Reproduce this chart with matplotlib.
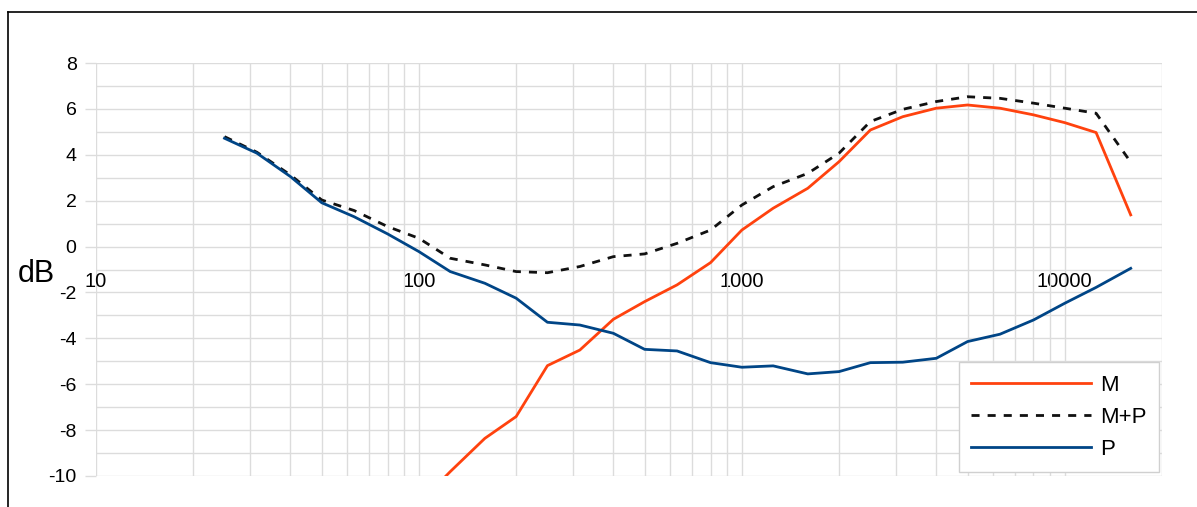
import numpy as np
import matplotlib
matplotlib.use('Agg')
import matplotlib.pyplot as plt
from matplotlib.lines import Line2D
from matplotlib.ticker import FixedLocator, NullFormatter, MultipleLocator

plt.rcParams['font.family'] = ['Liberation Sans', 'DejaVu Sans']
plt.rcParams['axes.unicode_minus'] = False

# 1/3-octave centre frequencies (Hz)
freq = [25, 31.5, 40, 50, 63, 80, 100, 125, 160, 200, 250, 315, 400, 500, 630,
        800, 1000, 1250, 1600, 2000, 2500, 3150, 4000, 5000, 6300, 8000,
        10000, 12500, 16000]

# levels in dB
p_db = [4.72, 4.07, 3.05, 1.91, 1.30, 0.55, -0.22, -1.09, -1.6, -2.25, -3.30,
        -3.42, -3.78, -4.48, -4.55, -5.06, -5.26, -5.2, -5.55, -5.45, -5.06,
        -5.04, -4.87, -4.14, -3.82, -3.2, -2.47, -1.78, -0.95]
m_freq = freq[6:]
m_db = [-11.2, -9.81, -8.36, -7.41, -5.19, -4.51, -3.17, -2.40, -1.67, -0.70,
        0.72, 1.67, 2.54, 3.70, 5.08, 5.66, 6.03, 6.17, 6.03, 5.74, 5.40,
        4.97, 1.38]
mp_db = [4.79, 4.11, 3.12, 2.03, 1.57, 0.87, 0.36, -0.51, -0.80, -1.09, -1.14,
         -0.87, -0.44, -0.32, 0.14, 0.72, 1.81, 2.61, 3.19, 4.07, 5.45, 5.98,
         6.32, 6.53, 6.46, 6.25, 6.03, 5.81, 3.68]

W, H = 1197, 507
fig = plt.figure(figsize=(W / 100, H / 100), dpi=100)
ax = fig.add_axes([96 / W, 1 - 476 / H, (1162 - 96) / W, (476 - 63) / H])

grid_c = '#dcdcdc'
ax.plot(m_freq, m_db, color='#ff420e', lw=2.0, label='M', zorder=3)
ax.plot(freq, mp_db, color='#111111', lw=2.0, ls=(0, (2.9, 2.9)), label='M+P', zorder=3)
ax.plot(freq, p_db, color='#004586', lw=2.0, label='P', zorder=3)

ax.set_xscale('log')
ax.set_xlim(10, 20000)
ax.set_ylim(-10, 8)

ax.xaxis.set_major_locator(FixedLocator([10, 100, 1000, 10000]))
minors = [m * 10 ** e for e in range(1, 5) for m in range(2, 10) if m * 10 ** e <= 20000]
ax.xaxis.set_minor_locator(FixedLocator(minors))
ax.xaxis.set_minor_formatter(NullFormatter())
ax.set_xticklabels(['10', '100', '1000', '10000'])
ax.yaxis.set_major_locator(MultipleLocator(2))
ax.yaxis.set_minor_locator(MultipleLocator(1))

ax.grid(True, which='both', color=grid_c, lw=1.0, zorder=0)
ax.set_axisbelow(True)

# x labels sit just under the 0 dB line
ax.spines['bottom'].set_position(('data', 0))
for s in ax.spines.values():
    s.set_visible(False)
ax.tick_params(axis='x', which='both', length=0, pad=18, labelsize=14.5)
ax.tick_params(axis='y', which='major', length=8, color=grid_c, width=1.0,
               pad=6, labelsize=14)
ax.tick_params(axis='y', which='minor', length=0)

fig.text(36 / W, 1 - 274 / H, 'dB', fontsize=22, ha='center', va='center')

leg = ax.legend(loc='lower right', bbox_to_anchor=(1159 / W, 1 - 472 / H),
                bbox_transform=fig.transFigure, borderaxespad=0, fontsize=16,
                handlelength=5.4, handletextpad=0.4, labelspacing=0.5,
                borderpad=0.55, fancybox=False, framealpha=1)
leg.get_frame().set_edgecolor('#d0d0d0')
leg.get_frame().set_linewidth(1.0)

# outer frame (left and top edges)
fig.add_artist(Line2D([8 / W, 8 / W], [0, 1 - 12 / H], color='black', lw=1.2,
                      transform=fig.transFigure))
fig.add_artist(Line2D([8 / W, 1], [1 - 12 / H, 1 - 12 / H], color='black', lw=1.2,
                      transform=fig.transFigure))

fig.savefig('out.png', dpi=100)
